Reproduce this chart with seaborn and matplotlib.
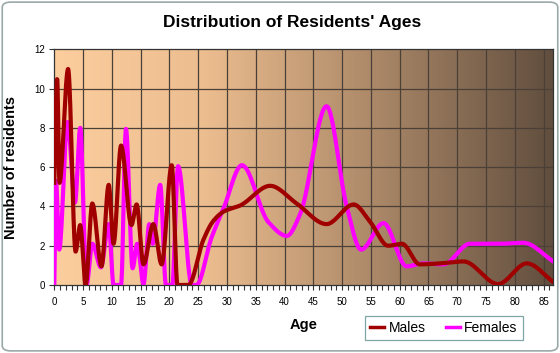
import numpy as np
import matplotlib
matplotlib.use("Agg")
import matplotlib.pyplot as plt
import seaborn as sns
import pandas as pd
from matplotlib.colors import LinearSegmentedColormap
from matplotlib.patches import FancyBboxPatch
from matplotlib.lines import Line2D

# ---- data ----
male_age = [0, 0.5, 0.9, 2.4, 3.7, 4.5, 5.45, 6.6, 8.2, 9.45, 10.3, 11.6, 13.4, 14.3,
            15.5, 17.2, 18.65, 20.4, 21.4, 23.3, 25.9, 27.6, 29.5, 32.3, 37.5, 42.1,
            47.3, 52.0, 54.9, 58.0, 60.4, 63.5, 67.0, 71.1, 77.1, 82.1, 86.7]
male_val = [5.2, 10.5, 5.2, 11.0, 1.7, 3.05, 0.0, 4.15, 0.95, 5.1, 2.1, 7.1, 3.05, 4.1,
            1.05, 3.1, 1.05, 6.1, 0.0, 0.0, 2.3, 3.25, 3.75, 4.05, 5.05, 4.15,
            3.1, 4.1, 3.2, 2.0, 2.1, 1.05, 1.1, 1.2, 0.05, 1.1, 0.15]

fem_age = [0, 0.3, 0.85, 2.3, 3.6, 4.5, 5.6, 6.6, 8.1, 9.45, 10.3, 11.6, 12.45, 13.6,
           14.4, 15.5, 16.5, 17.1, 18.4, 19.4, 20.5, 21.5, 23.9, 24.7, 27.3, 29.4,
           32.6, 37.2, 40.4, 42.7, 47.3, 50.8, 53.3, 57.2, 61.2, 64.1, 67.6, 72.2,
           77.4, 81.5, 86.7]
fem_val = [0.0, 5.3, 1.8, 8.3, 4.2, 8.0, 0.0, 2.1, 0.9, 3.1, 0.0, 0.0, 7.95, 0.85,
           2.1, 0.05, 3.1, 2.1, 5.1, 0.0, 0.0, 6.05, 0.0, 0.0, 2.4, 3.9,
           6.1, 3.2, 2.5, 3.6, 9.1, 4.0, 1.8, 3.15, 0.95, 1.1, 1.05, 2.1,
           2.1, 2.15, 1.2]

series_names = ["Males", "Females"]
x_ticks = list(range(0, 90, 5))
y_ticks = list(range(0, 13, 2))


def pchip(x, y, xs):
    x = np.asarray(x, float); y = np.asarray(y, float)
    h = np.diff(x); d = np.diff(y) / h
    n = len(x); m = np.zeros(n)
    for k in range(1, n - 1):
        if d[k - 1] * d[k] > 0:
            w1 = 2 * h[k] + h[k - 1]; w2 = h[k] + 2 * h[k - 1]
            m[k] = (w1 + w2) / (w1 / d[k - 1] + w2 / d[k])
    m[0] = d[0]; m[-1] = d[-1]
    idx = np.clip(np.searchsorted(x, xs) - 1, 0, n - 2)
    t = (xs - x[idx]) / h[idx]
    h00 = 2 * t**3 - 3 * t**2 + 1; h10 = t**3 - 2 * t**2 + t
    h01 = -2 * t**3 + 3 * t**2; h11 = t**3 - t**2
    return h00 * y[idx] + h10 * h[idx] * m[idx] + h01 * y[idx + 1] + h11 * h[idx] * m[idx + 1]


xs_m = np.linspace(male_age[0], male_age[-1], 2000)
xs_f = np.linspace(fem_age[0], fem_age[-1], 2000)
df = pd.concat([
    pd.DataFrame({"Age": xs_m, "n": np.clip(pchip(male_age, male_val, xs_m), 0, None), "s": "Males"}),
    pd.DataFrame({"Age": xs_f, "n": np.clip(pchip(fem_age, fem_val, xs_f), 0, None), "s": "Females"}),
])

plt.rcParams['font.family'] = ['Liberation Sans', 'DejaVu Sans']
fig = plt.figure(figsize=(5.6, 3.53), dpi=100)
fig.patch.set_facecolor("white")
ax = fig.add_axes([54.3 / 560, 1 - 285 / 353, (553 - 54.3) / 560, (285 - 49.3) / 353])

XMAX = 86.64
cmap = LinearSegmentedColormap.from_list("bg", [
    (0.0, "#FCCE9E"), (0.3, "#ECBD8F"), (0.6, "#B48F6D"), (1.0, "#614E3E")])
grad = np.linspace(0, 1, 512).reshape(1, -1)
ax.imshow(grad, extent=[0, XMAX, 0, 12], aspect="auto", cmap=cmap, zorder=0,
          interpolation="bilinear")

for xv in x_ticks[1:]:
    ax.axvline(xv, color="#4a4038", lw=0.9, zorder=1)
for yv in y_ticks[1:-1]:
    ax.axhline(yv, color="#4a4038", lw=0.9, zorder=1)

palette = {"Males": "#A00000", "Females": "#FF00FF"}
sns.lineplot(data=df, x="Age", y="n", hue="s", palette=palette, hue_order=["Females", "Males"],
             estimator=None, sort=False, lw=3.0, ax=ax, legend=False, zorder=3)

ax.set_xlim(0, XMAX)
ax.set_ylim(0, 12)
ax.set_xticks(x_ticks)
ax.set_xticks(range(0, 87), minor=True)
ax.set_yticks(y_ticks)
ax.tick_params(axis="x", which="both", direction="out", length=3.5, width=0.8,
               color="#333333", labelsize=7, pad=5)
ax.tick_params(axis="y", which="both", direction="out", length=3.5, width=0.8,
               color="#333333", labelsize=7, pad=3)
for s in ax.spines.values():
    s.set_color("#333333"); s.set_linewidth(0.9)
ax.set_xlabel("Age", fontsize=10.5, fontweight="bold", labelpad=8)
ax.set_ylabel("Number of residents", fontsize=10.5, fontweight="bold", labelpad=12)

fig.text(292 / 560, 1 - 22 / 353, "Distribution of Residents' Ages", ha="center", va="center",
         fontsize=12.5, fontweight="bold")

handles = [Line2D([], [], color=palette[n], lw=2.5) for n in series_names]
leg = fig.legend(handles, series_names, ncol=2, loc="center",
                 bbox_to_anchor=(444 / 560, 1 - 328 / 353), frameon=True, fancybox=False,
                 fontsize=10, handlelength=1.0, handletextpad=0.3, columnspacing=1.5,
                 borderpad=0.35)
leg.get_frame().set_edgecolor("#5f8f8f")
leg.get_frame().set_linewidth(0.9)

fig.patches.append(FancyBboxPatch((0.004, 0.006), 0.992, 0.988, boxstyle="round,pad=0,rounding_size=0.015",
                                  transform=fig.transFigure, fill=False, edgecolor="#9aa8a8", lw=1.2))

fig.savefig("out.png", dpi=100, facecolor=fig.get_facecolor())
